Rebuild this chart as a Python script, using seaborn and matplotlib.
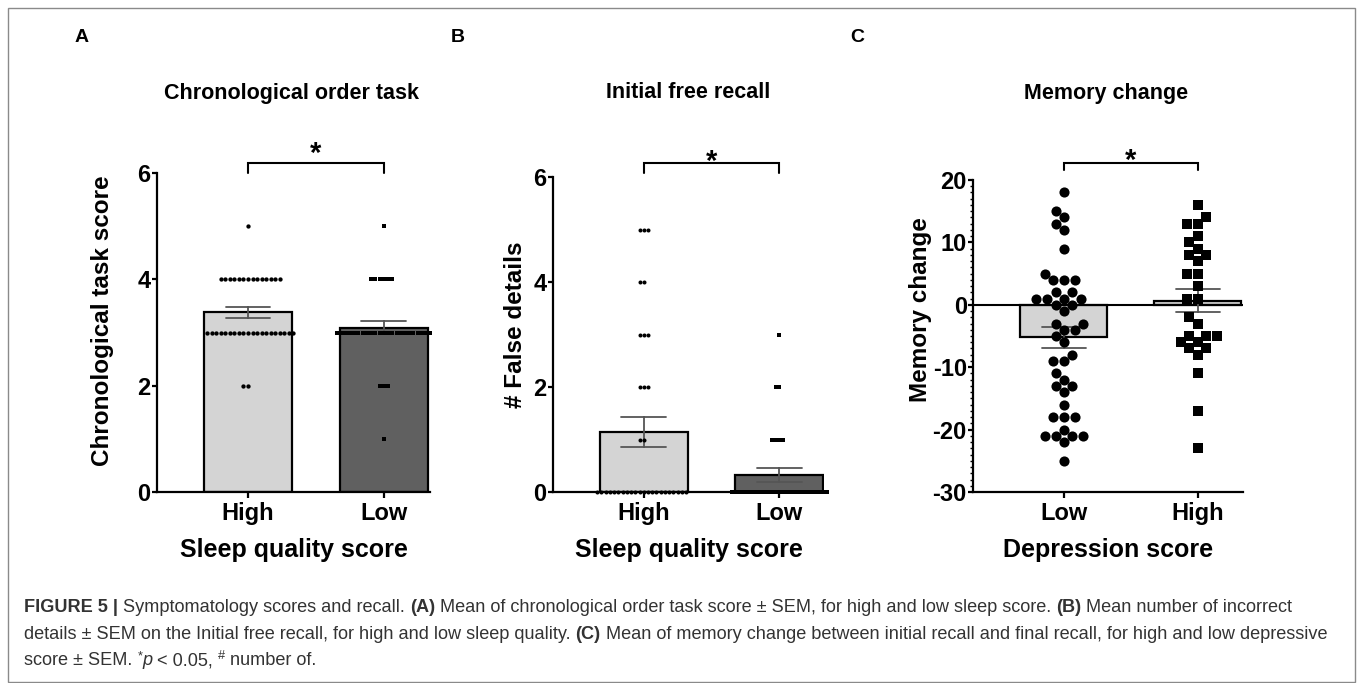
import numpy as np
import pandas as pd
import matplotlib
matplotlib.use("Agg")
import matplotlib.pyplot as plt
import seaborn as sns
from matplotlib.ticker import MultipleLocator
from matplotlib.patches import Rectangle

# ---------------- data ----------------
sleep_order = ["High", "Low"]
dep_order = ["Low", "High"]

# Panel A: chronological task score (value -> count)
A_high_vals, A_high_counts = [5, 4, 3, 2], [1, 14, 20, 2]
A_low_vals, A_low_counts = [5, 4, 3, 2, 1], [1, 6, 23, 3, 1]

# Panel B: number of false details (value -> count)
B_high_vals, B_high_counts = [5, 4, 3, 2, 1, 0], [3, 2, 3, 3, 2, 22]
B_low_vals, B_low_counts = [3, 2, 1, 0], [1, 2, 4, 27]

# Panel C: memory change, individual participants
C_low = [18, 15, 14, 13, 12, 9, 5, 4, 4, 4, 2, 2, 1, 1, 1, 1, 0, 0, -1, -3, -3,
         -4, -4, -5, -6, -8, -9, -9, -11, -12, -13, -13, -14, -16, -18, -18, -18,
         -20, -21, -21, -21, -21, -22, -25]
C_high = [16, 14, 13, 13, 11, 10, 9, 8, 8, 7, 5, 5, 3, 1, 1, -2, -3, -5, -5, -5,
          -6, -6, -7, -7, -8, -11, -17, -23]

titles = ["Chronological order task", "Initial free recall", "Memory change"]
ylabels = ["Chronological task score", "# False details", "Memory change"]
xlabels = ["Sleep quality score", "Sleep quality score", "Depression score"]
letters = ["A", "B", "C"]

# ---------------- style ----------------
sns.set_style("ticks")
plt.rcParams["font.family"] = ["Liberation Sans", "DejaVu Sans"]
plt.rcParams["font.weight"] = "bold"
plt.rcParams["axes.labelweight"] = "bold"
plt.rcParams["axes.unicode_minus"] = False
for key in ("text.color", "axes.labelcolor", "xtick.color", "ytick.color",
            "axes.edgecolor"):
    plt.rcParams[key] = "black"

W, H = 1357, 683
fig = plt.figure(figsize=(W / 100, H / 100), dpi=100)
fig.patch.set_facecolor("white")


def add_ax(l, r, t, b):
    return fig.add_axes([l / W, 1 - b / H, (r - l) / W, (b - t) / H])


axA = add_ax(157, 430, 173, 492)
axB = add_ax(553, 824, 177, 492)
axC = add_ax(973, 1243, 180, 492)

LIGHT, DARK = "#d4d4d4", "#606060"


def draw_panel(ax, order, values, markers, msizes, colors):
    df = pd.DataFrame({
        "group": np.repeat(order, [len(v) for v in values]),
        "value": np.concatenate([np.asarray(v, float) for v in values]),
    })
    sns.barplot(data=df, x="group", y="value", hue="group", order=order,
                hue_order=order, palette=colors, errorbar="se", capsize=0.33,
                width=0.65, edgecolor="black", linewidth=1.6,
                err_kws={"color": "#555555", "linewidth": 1.3},
                legend=False, ax=ax)
    for g, m, s in zip(order, markers, msizes):
        sns.swarmplot(data=df[df.group == g], x="group", y="value", order=order,
                      color="black", marker=m, size=s, linewidth=0, ax=ax)
    for c in ax.collections:
        c.set_clip_on(False)
    return df


A_high = np.repeat(A_high_vals, A_high_counts)
A_low = np.repeat(A_low_vals, A_low_counts)
B_high = np.repeat(B_high_vals, B_high_counts)
B_low = np.repeat(B_low_vals, B_low_counts)

draw_panel(axA, sleep_order, [A_high, A_low], ["o", "s"], [3.1, 2.9], [LIGHT, DARK])
draw_panel(axB, sleep_order, [B_high, B_low], ["o", "s"], [2.9, 2.5], [LIGHT, DARK])
axC.axhline(0, color="black", lw=1.5, zorder=1.5)
draw_panel(axC, dep_order, [C_low, C_high], ["o", "s"], [7.3, 7.3], [LIGHT, LIGHT])

axA.set_ylim(0, 6)
axB.set_ylim(0, 6)
axC.set_ylim(-30, 20)
for ax in (axA, axB):
    ax.set_yticks([0, 2, 4, 6])
axC.set_yticks([-30, -20, -10, 0, 10, 20])
axC.yaxis.set_minor_locator(MultipleLocator(1))
axC.tick_params(axis="y", which="minor", length=2.5, width=1, color="black")

axA.set_xlim(-0.67, 1.34)
axB.set_xlim(-0.67, 1.33)
axC.set_xlim(-0.68, 1.34)

label_y = [(103, 321), (516, 325), (920, 310)]
for ax, yl, xl, (lx, ly) in zip((axA, axB, axC), ylabels, xlabels, label_y):
    sns.despine(ax=ax)
    ax.spines["left"].set_linewidth(1.6)
    ax.spines["bottom"].set_linewidth(1.6)
    ax.spines["left"].set_color("black")
    ax.spines["bottom"].set_color("black")
    ax.tick_params(axis="y", which="major", width=1.6, length=3.5,
                   labelsize=17, color="black", labelcolor="black", pad=1)
    ax.tick_params(axis="x", which="major", width=1.6, length=4,
                   labelsize=17, color="black", labelcolor="black", pad=3)
    for t in ax.get_xticklabels() + ax.get_yticklabels():
        t.set_fontweight("bold")
    ax.set_xlabel(xl, fontsize=18, fontweight="bold", va="center", color="black")
    pos = ax.get_position()
    ax.xaxis.set_label_coords(0.5, (1 - 550 / H - pos.y0) / pos.height)
    ax.set_ylabel(yl, fontsize=17.5, fontweight="bold", va="center",
                  rotation_mode="default", color="black")
    ax.yaxis.set_label_coords((lx / W - pos.x0) / pos.width,
                              (1 - ly / H - pos.y0) / pos.height)

# significance brackets
for ax, (ylo, yhi), off in ((axA, (6.0, 6.18), 1), (axB, (6.08, 6.27), -5),
                            (axC, (21.6, 22.8), -4.5)):
    ax.plot([0, 0, 1, 1], [ylo, yhi, yhi, ylo], color="black", lw=1.5,
            clip_on=False, solid_joinstyle="miter")
    ax.annotate("*", xy=(0.5, yhi), xytext=(0, off), textcoords="offset points",
                ha="center", va="baseline", fontsize=21, fontweight="bold",
                color="black", annotation_clip=False)

# titles and panel letters
for x_c, t in zip((291, 688, 1106), titles):
    fig.text(x_c / W, 1 - 93 / H, t, ha="center", va="center", fontsize=15.5,
             fontweight="bold", color="black")
for x_c, L in zip((82, 458, 857), letters):
    fig.text(x_c / W, 1 - 37 / H, L, ha="center", va="center", fontsize=14,
             fontweight="bold", color="black")

# border
fig.patches.append(Rectangle((8 / W, 1 / H), (1355 - 8) / W, (682 - 8) / H,
                             transform=fig.transFigure, fill=False,
                             edgecolor="#8a8a8a", lw=1.0))

# caption with mixed styles
renderer = fig.canvas.get_renderer()
CAP_COLOR = "#333333"


def run_width(text, fs, weight, style):
    t1 = fig.text(0, 0, "|" + text + "|", fontsize=fs, fontweight=weight, fontstyle=style)
    t2 = fig.text(0, 0, "||", fontsize=fs, fontweight=weight, fontstyle=style)
    w = t1.get_window_extent(renderer).width - t2.get_window_extent(renderer).width
    t1.remove()
    t2.remove()
    return w


N = dict(weight="normal", style="normal")
B = dict(weight="bold", style="normal")
lines = [
    [("FIGURE 5 |", B), (" Symptomatology scores and recall. ", N), ("(A)", B),
     (" Mean of chronological order task score \u00b1 SEM, for high and low sleep score. ", N),
     ("(B)", B), (" Mean number of incorrect", N)],
    [("details \u00b1 SEM on the Initial free recall, for high and low sleep quality. ", N),
     ("(C)", B),
     (" Mean of memory change between initial recall and final recall, for high and low depressive", N)],
    [("score \u00b1 SEM. ", N), ("*", dict(weight="normal", style="normal", sup=True)),
     ("p", dict(weight="normal", style="italic")), (" < 0.05, ", N),
     ("#", dict(weight="normal", style="normal", sup=True)), (" number of.", N)],
]


def line_width(runs, fs):
    tot = 0
    for text, kw in runs:
        f = fs * (0.7 if kw.get("sup") else 1)
        tot += run_width(text, f, kw["weight"], kw["style"])
    return tot


base_fs = 12.0
w0 = line_width(lines[0], base_fs)
cap_fs = base_fs * (1300 - 24) / w0

baselines = [612, 639, 665]
for runs, yb in zip(lines, baselines):
    x = 24.0
    for text, kw in runs:
        f = cap_fs * (0.7 if kw.get("sup") else 1)
        rise = 6 if kw.get("sup") else 0
        fig.text(x / W, 1 - (yb - rise) / H, text, fontsize=f,
                 fontweight=kw["weight"], fontstyle=kw["style"], color=CAP_COLOR,
                 ha="left", va="baseline")
        x += run_width(text, f, kw["weight"], kw["style"])

fig.savefig("out.png", dpi=100, facecolor="white")
